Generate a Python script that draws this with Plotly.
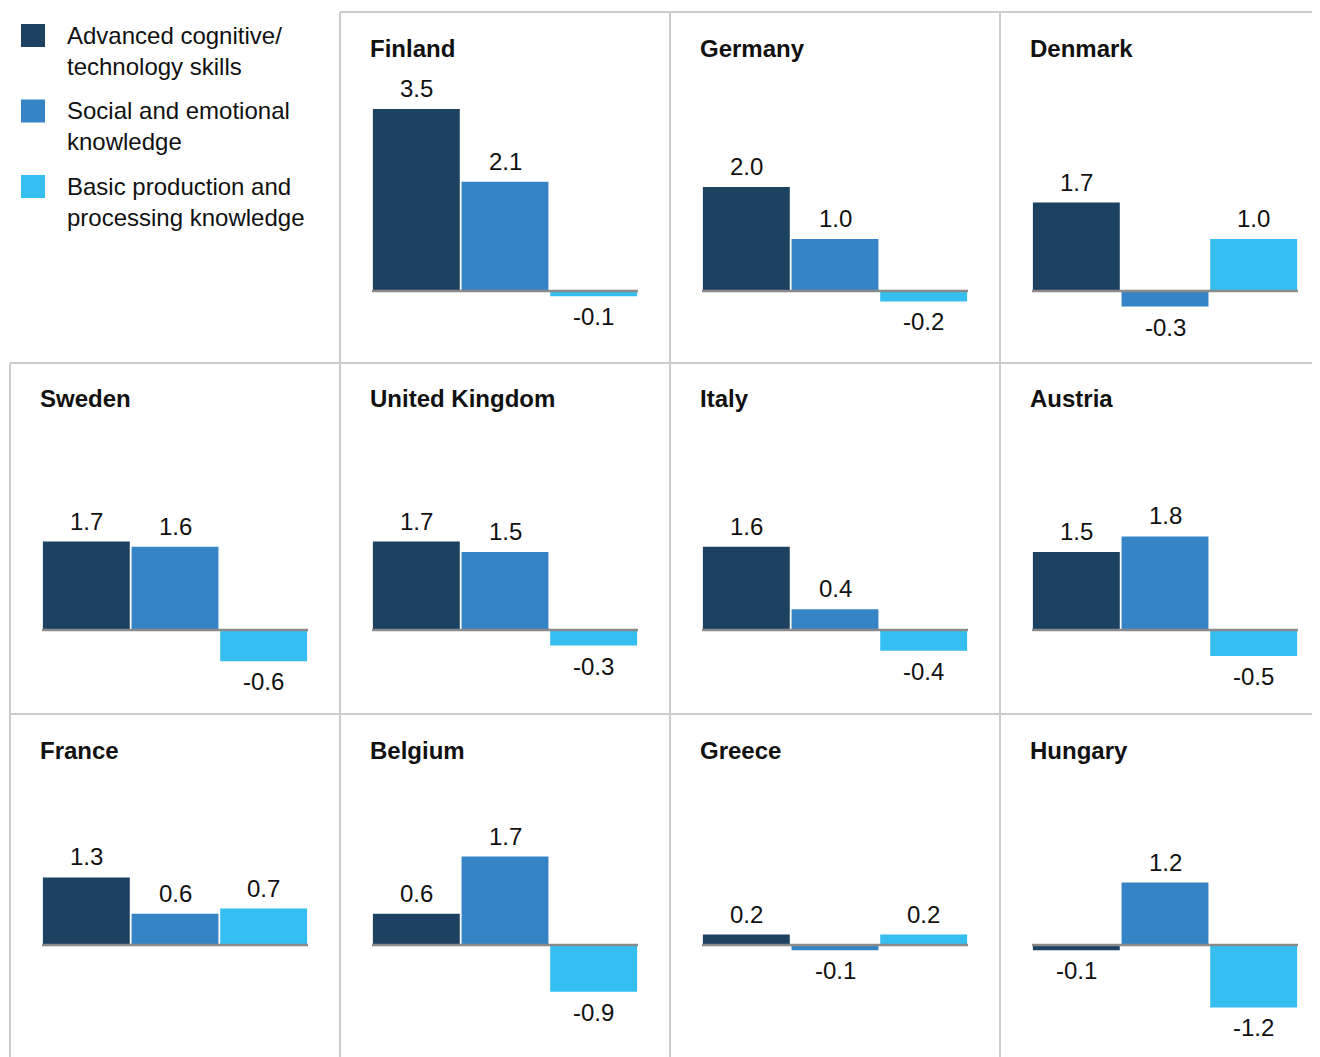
import plotly.graph_objects as go

# --- data -------------------------------------------------------------------
countries = ["Finland", "Germany", "Denmark", "Sweden", "United Kingdom", "Italy",
             "Austria", "France", "Belgium", "Greece", "Hungary"]
advanced = [3.5, 2.0, 1.7, 1.7, 1.7, 1.6, 1.5, 1.3, 0.6, 0.2, -0.1]
social = [2.1, 1.0, -0.3, 1.6, 1.5, 0.4, 1.8, 0.6, 1.7, -0.1, 1.2]
basic = [-0.1, -0.2, 1.0, -0.6, -0.3, -0.4, -0.5, 0.7, -0.9, 0.2, -1.2]
series_names = ["Advanced cognitive/<br>technology skills",
                "Social and emotional<br>knowledge",
                "Basic production and<br>processing knowledge"]

COLORS = ["#1D4161", "#3585C6", "#35BEF0"]
GRID = "#CCCCCC"
FONT = "Arial, Liberation Sans, sans-serif"
FS = 24

W, H = 1320, 1057
OFF = 8                      # page body margin
PANEL_W = 330
ROW_TOP = [12, 363, 714]
ROW_BOT = [362, 714, 1065]
ZERO_PX = [291, 630, 945]   # pixel of the zero line in each row
PX_PER_UNIT = 52


def px_x(p):
    return (p - OFF) / W


def px_y(p):
    return 1 - (p - OFF) / H


fig = go.Figure()
annotations = []
shapes = []
layout_axes = {}

for i, name in enumerate(countries):
    cell = i + 1
    row, col = divmod(cell, 4)
    left = 10 + PANEL_W * col
    top_px = ROW_TOP[row] + 70
    bot_px = min(ROW_BOT[row] - 8, H + OFF)
    zero = ZERO_PX[row]
    ymax = (zero - top_px) / PX_PER_UNIT
    ymin = -(bot_px - zero) / PX_PER_UNIT

    n = "" if i == 0 else str(i + 1)
    xa, ya = f"x{n}", f"y{n}"
    vals = [advanced[i], social[i], basic[i]]

    fig.add_trace(go.Bar(
        x=[0, 1, 2], y=vals, marker=dict(color=COLORS, line=dict(width=0)),
        xaxis=xa, yaxis=ya, showlegend=False, hoverinfo="skip",
    ))

    layout_axes[f"xaxis{n}"] = dict(
        domain=[px_x(left + 32), px_x(left + 298)], anchor=ya,
        range=[-0.5, 2.5], visible=False, fixedrange=True)
    layout_axes[f"yaxis{n}"] = dict(
        domain=[px_y(bot_px), px_y(top_px)], anchor=xa,
        range=[ymin, ymax], visible=False, fixedrange=True)

    # zero line over the bars
    shapes.append(dict(type="line", xref=f"{xa} domain", yref=ya,
                       x0=0, x1=1, y0=0, y1=0, layer="above",
                       line=dict(color="#8A8A8A", width=2.5)))

    # value labels
    for j, v in enumerate(vals):
        annotations.append(dict(
            x=j, y=v, xref=xa, yref=ya, text=f"{v:.1f}", showarrow=False,
            yanchor="bottom" if v >= 0 else "top", yshift=5 if v >= 0 else -5,
            font=dict(size=FS, color="#111111", family=FONT)))

    # country title
    annotations.append(dict(
        x=px_x(left + 28), y=px_y(ROW_TOP[row] + 36), xref="paper", yref="paper",
        text=f"<b>{name}</b>", showarrow=False, xanchor="left", yanchor="middle",
        font=dict(size=FS, color="#111111", family=FONT)))

# legend (top-left cell)
for k, (label, color) in enumerate(zip(series_names, COLORS)):
    y0 = 24 + 75.5 * k
    shapes.append(dict(type="rect", xref="paper", yref="paper",
                       x0=px_x(21), x1=px_x(45), y0=px_y(y0), y1=px_y(y0 + 23),
                       fillcolor=color, line=dict(width=0)))
    annotations.append(dict(
        x=px_x(65), y=px_y(y0 - 4), xref="paper", yref="paper", text=label,
        showarrow=False, xanchor="left", yanchor="top", align="left",
        font=dict(size=FS, color="#111111", family=FONT)))

# panel borders
grid_lines = [
    (340, 12, 1340, 12),
    (10, 363, 1340, 363),
    (10, 714, 1340, 714),
    (340, 12, 340, 1080),
    (670, 12, 670, 1080),
    (1000, 12, 1000, 1080),
    (10, 363, 10, 1080),
]
for x0, y0, x1, y1 in grid_lines:
    shapes.append(dict(type="line", xref="paper", yref="paper",
                       x0=px_x(x0), x1=px_x(x1), y0=px_y(y0), y1=px_y(y1),
                       line=dict(color=GRID, width=2), layer="below"))

fig.update_layout(
    **layout_axes,
    width=W, height=H,
    margin=dict(l=0, r=0, t=0, b=0),
    paper_bgcolor="white", plot_bgcolor="rgba(0,0,0,0)",
    bargap=0.02,
    font=dict(family=FONT, color="#111111"),
    annotations=annotations,
    shapes=shapes,
    showlegend=False,
)

fig.write_html("out.html")
